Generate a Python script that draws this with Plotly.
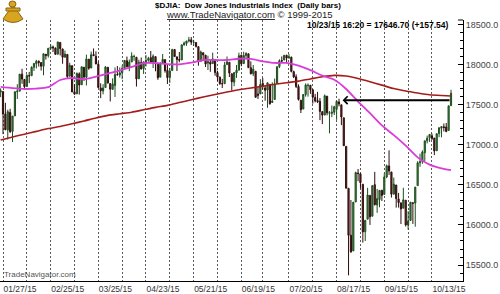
import plotly.graph_objects as go

# ---------------- data ----------------
dates = [
    "01/26/15", "01/27/15", "01/28/15", "01/29/15", "01/30/15",
    "02/02/15", "02/03/15", "02/04/15", "02/05/15", "02/06/15", "02/09/15", "02/10/15", "02/11/15", "02/12/15", "02/13/15",
    "02/17/15", "02/18/15", "02/19/15", "02/20/15", "02/23/15", "02/24/15", "02/25/15", "02/26/15", "02/27/15",
    "03/02/15", "03/03/15", "03/04/15", "03/05/15", "03/06/15", "03/09/15", "03/10/15", "03/11/15", "03/12/15", "03/13/15",
    "03/16/15", "03/17/15", "03/18/15", "03/19/15", "03/20/15", "03/23/15", "03/24/15", "03/25/15", "03/26/15", "03/27/15",
    "03/30/15", "03/31/15",
    "04/01/15", "04/02/15", "04/06/15", "04/07/15", "04/08/15", "04/09/15", "04/10/15", "04/13/15", "04/14/15", "04/15/15",
    "04/16/15", "04/17/15", "04/20/15", "04/21/15", "04/22/15", "04/23/15", "04/24/15", "04/27/15", "04/28/15", "04/29/15",
    "04/30/15",
    "05/01/15", "05/04/15", "05/05/15", "05/06/15", "05/07/15", "05/08/15", "05/11/15", "05/12/15", "05/13/15", "05/14/15",
    "05/15/15", "05/18/15", "05/19/15", "05/20/15", "05/21/15", "05/22/15", "05/26/15", "05/27/15", "05/28/15", "05/29/15",
    "06/01/15", "06/02/15", "06/03/15", "06/04/15", "06/05/15", "06/08/15", "06/09/15", "06/10/15", "06/11/15", "06/12/15",
    "06/15/15", "06/16/15", "06/17/15", "06/18/15", "06/19/15", "06/22/15", "06/23/15", "06/24/15", "06/25/15", "06/26/15",
    "06/29/15", "06/30/15",
    "07/01/15", "07/02/15", "07/06/15", "07/07/15", "07/08/15", "07/09/15", "07/10/15", "07/13/15", "07/14/15", "07/15/15",
    "07/16/15", "07/17/15", "07/20/15", "07/21/15", "07/22/15", "07/23/15", "07/24/15", "07/27/15", "07/28/15", "07/29/15",
    "07/30/15", "07/31/15",
    "08/03/15", "08/04/15", "08/05/15", "08/06/15", "08/07/15", "08/10/15", "08/11/15", "08/12/15", "08/13/15", "08/14/15",
    "08/17/15", "08/18/15", "08/19/15", "08/20/15", "08/21/15", "08/24/15", "08/25/15", "08/26/15", "08/27/15", "08/28/15",
    "08/31/15",
    "09/01/15", "09/02/15", "09/03/15", "09/04/15", "09/08/15", "09/09/15", "09/10/15", "09/11/15", "09/14/15", "09/15/15",
    "09/16/15", "09/17/15", "09/18/15", "09/21/15", "09/22/15", "09/23/15", "09/24/15", "09/25/15", "09/28/15", "09/29/15",
    "09/30/15",
    "10/01/15", "10/02/15", "10/05/15", "10/06/15", "10/07/15", "10/08/15", "10/09/15", "10/12/15", "10/13/15", "10/14/15",
    "10/15/15", "10/16/15", "10/19/15", "10/20/15", "10/21/15", "10/22/15", "10/23/15",
]

opens = [
    17662, 17668, 17387, 17188, 17407,
    17170, 17363, 17664, 17673, 17885, 17819, 17730, 17867, 17866, 17971, 18016, 18046, 18030, 17984, 18134, 18117, 18208, 18226, 18211,
    18134, 18282, 18200, 18096, 18132, 17859, 17991, 17663, 17639, 17889, 17753, 17972, 17847, 18073, 17962, 18131, 18108, 18009, 17713, 17674, 17718, 17971,
    17768, 17695, 17742, 17880, 17875, 17904, 17958, 18053, 17974, 18038, 18105, 18097, 17827, 18032, 17955, 18031, 18060, 18092, 18035, 18104, 18025,
    17848, 18026, 18067, 17932, 17844, 17930, 18194, 18102, 18069, 18063, 18251, 18269, 18300, 18315, 18283, 18280, 18229, 18046, 18153, 18123,
    18025, 18034, 18017, 18068, 17905, 17848, 17766, 17766, 18004, 18034, 17891, 17785, 17901, 17935, 18121, 18017, 18118, 18140, 17966, 17893, 17921, 17637,
    17638, 17770, 17713, 17687, 17758, 17531, 17568, 17770, 17980, 18054, 18062, 18121, 18088, 18098, 17916, 17852, 17731, 17560, 17449, 17630, 17741, 17746,
    17689, 17595, 17555, 17546, 17417, 17374, 17610, 17395, 17395, 17409, 17447, 17537, 17502, 17340, 16983, 16459, 15872, 15676, 16288, 16649, 16640,
    16510, 15916, 16072, 16370, 16110, 16504, 16251, 16318, 16433, 16382, 16600, 16738, 16663, 16385, 16500, 16326, 16277, 16210, 16310, 16001, 16057,
    16278, 16274, 16492, 16777, 16794, 16904, 17052, 17090, 17115, 17087, 16928, 17142, 17210, 17227, 17225, 17182, 17491,
]

highs = [
    17708, 17668, 17527, 17441, 17452,
    17362, 17666, 17759, 17888, 17952, 17825, 17885, 17913, 17983, 18021, 18064, 18057, 18033, 18141, 18135, 18210, 18257, 18242, 18218,
    18289, 18282, 18203, 18180, 18136, 18028, 17991, 17760, 17906, 17908, 17979, 17972, 18129, 18073, 18167, 18206, 18170, 18043, 17771, 17760, 17985, 17971,
    17768, 17832, 17969, 17986, 17970, 17993, 18057, 18105, 18068, 18158, 18129, 18097, 18067, 18093, 18044, 18123, 18102, 18175, 18133, 18104, 18025,
    18033, 18137, 18067, 18009, 17963, 18203, 18194, 18102, 18162, 18253, 18293, 18303, 18351, 18349, 18314, 18286, 18229, 18179, 18153, 18123,
    18116, 18073, 18154, 18068, 17928, 17855, 17826, 18039, 18106, 18034, 17891, 17912, 18000, 18154, 18131, 18165, 18159, 18140, 18045, 17999, 17921, 17716,
    17823, 17837, 17749, 17780, 17758, 17783, 17830, 17983, 18071, 18107, 18122, 18128, 18138, 18103, 17929, 17883, 17758, 17561, 17635, 17770, 17769, 17750,
    17700, 17639, 17664, 17586, 17417, 17631, 17610, 17424, 17493, 17490, 17548, 17578, 17502, 17340, 16983, 16459, 16312, 16285, 16666, 16700, 16640,
    16510, 16059, 16465, 16370, 16492, 16664, 16451, 16434, 16441, 16644, 16755, 16933, 16663, 16593, 16500, 16401, 16277, 16465, 16310, 16172, 16285,
    16278, 16478, 16797, 16891, 16933, 17057, 17117, 17138, 17143, 17087, 17142, 17216, 17230, 17268, 17275, 17489, 17689,
]

lows = [
    17598, 17136, 17184, 17067, 17152,
    17037, 17363, 17575, 17673, 17765, 17693, 17730, 17773, 17866, 17925, 17956, 17979, 17930, 17871, 18068, 18092, 18191, 18162, 18132,
    18134, 18119, 18015, 18096, 17826, 17859, 17662, 17630, 17639, 17630, 17753, 17800, 17744, 17940, 17962, 18116, 18011, 17718, 17585, 17633, 17718, 17767,
    17544, 17695, 17600, 17875, 17843, 17822, 17952, 17976, 17922, 18038, 18052, 17730, 17827, 17943, 17888, 17980, 18041, 18030, 17962, 17921, 17814,
    17848, 18026, 17904, 17762, 17776, 17930, 18100, 17924, 18034, 18063, 18241, 18239, 18282, 18250, 18238, 18218, 17991, 18046, 18068, 17974,
    17937, 17915, 18017, 17865, 17798, 17752, 17712, 17766, 18004, 17850, 17681, 17734, 17838, 17935, 17984, 18017, 18081, 17965, 17882, 17861, 17596, 17575,
    17638, 17694, 17553, 17465, 17504, 17531, 17568, 17770, 17961, 18027, 18062, 18037, 18079, 17907, 17836, 17711, 17555, 17399, 17449, 17604, 17604, 17639,
    17516, 17531, 17524, 17311, 17261, 17374, 17371, 17145, 17347, 17374, 17314, 17482, 17248, 16990, 16459, 15370, 15651, 15676, 16288, 16547, 16458,
    15780, 15800, 16072, 16001, 16110, 16244, 16152, 16222, 16300, 16382, 16585, 16626, 16343, 16385, 16217, 16218, 16012, 16210, 15981, 15942, 16057,
    16013, 15979, 16492, 16727, 16765, 16796, 17020, 17039, 17061, 16874, 16928, 17097, 17096, 17168, 17159, 17182, 17491,
]

closes = [
    17678, 17387, 17191, 17416, 17165,
    17361, 17666, 17673, 17885, 17824, 17729, 17868, 17862, 17972, 18019, 18047, 18029, 17985, 18140, 18117, 18209, 18225, 18214, 18133,
    18288, 18204, 18097, 18136, 17856, 17996, 17662, 17635, 17895, 17749, 17977, 17849, 18076, 17959, 18128, 18116, 18012, 17718, 17678, 17713, 17976, 17776,
    17698, 17763, 17880, 17875, 17902, 17958, 18057, 17977, 18036, 18113, 18106, 17826, 18034, 17950, 18038, 18058, 18080, 18037, 18110, 18035, 17841,
    18024, 18070, 17928, 17842, 17925, 18191, 18105, 18068, 18060, 18252, 18272, 18298, 18312, 18285, 18285, 18232, 18041, 18163, 18126, 18011,
    18040, 18011, 18076, 17905, 17849, 17766, 17765, 18001, 18039, 17899, 17791, 17904, 17935, 18115, 18015, 18119, 18144, 17966, 17890, 17947, 17596, 17620,
    17758, 17730, 17684, 17777, 17515, 17548, 17760, 17977, 18054, 18051, 18121, 18087, 18101, 17920, 17851, 17732, 17569, 17441, 17631, 17751, 17746, 17690,
    17599, 17551, 17540, 17419, 17373, 17615, 17403, 17402, 17409, 17477, 17546, 17512, 17349, 16991, 16460, 15871, 15666, 16285, 16655, 16643, 16528,
    15914, 16059, 16375, 16102, 16492, 16254, 16330, 16433, 16370, 16599, 16740, 16675, 16385, 16511, 16330, 16280, 16201, 16315, 16001, 16049, 16285,
    16272, 16472, 16777, 16790, 16913, 17051, 17084, 17131, 17082, 16925, 17141, 17216, 17230, 17218, 17169, 17489, 17647,
]

# moving averages, one value every 5 bars (plus the last bar)
ma_step = 5
ma_fast = [17725, 17710, 17700, 17705, 17722, 17812, 17837, 17822, 17855, 17893,
           17930, 17975, 18022, 18023, 18010, 18008, 18028, 18062, 18062, 18062,
           18078, 18075, 18045, 18025, 18025, 17992, 17935, 17866, 17815, 17700,
           17543, 17397, 17244, 17123, 16992, 16845, 16755, 16708, 16685]
ma_slow = [17062, 17100, 17135, 17170, 17205, 17232, 17265, 17300, 17338, 17370,
           17390, 17410, 17440, 17470, 17495, 17530, 17565, 17600, 17632, 17662,
           17690, 17712, 17735, 17758, 17778, 17798, 17825, 17852, 17870, 17862,
           17830, 17790, 17748, 17705, 17675, 17650, 17628, 17618, 17612]

y_ticks = [15500, 16000, 16500, 17000, 17500, 18000, 18500]
grid_dates = ["01/27/15", "02/10/15", "02/25/15", "03/11/15", "03/25/15", "04/09/15", "04/23/15",
              "05/07/15", "05/21/15", "06/05/15", "06/19/15", "07/02/15", "07/20/15", "08/03/15",
              "08/17/15", "08/31/15", "09/15/15", "09/29/15", "10/13/15"]
label_dates = ["01/27/15", "02/25/15", "03/25/15", "04/23/15", "05/21/15",
               "06/19/15", "07/20/15", "08/17/15", "09/15/15", "10/13/15"]

arrow_level = 17560
arrow_from = "10/23/15"
arrow_to_after = "08/19/15"
last_stamp = "10/23/15 16:20"
last_value = 17646.70
last_change = 157.54

# ---------------- figure ----------------
W, H = 500, 294
ML, MR, MT, MB = 0, 37, 20, 13
PW, PH = W - ML - MR, H - MT - MB


def px(x):
    return (x - ML) / PW


def py(y):
    return (H - MB - y) / PH


FONT = "Liberation Sans, Arial, sans-serif"

fig = go.Figure()
fig.add_trace(go.Candlestick(
    x=dates, open=opens, high=highs, low=lows, close=closes,
    increasing=dict(line=dict(color="#1f4d1f", width=1), fillcolor="#3e8c3e"),
    decreasing=dict(line=dict(color="#2e0c0c", width=1), fillcolor="#7d2424"),
    whiskerwidth=0, showlegend=False, hoverinfo="skip",
))

ma_x = dates[::ma_step] + [dates[-1]]
fig.add_trace(go.Scatter(x=ma_x, y=ma_slow, mode="lines",
                         line=dict(color="#a51c1c", width=1.6, shape="spline", smoothing=0.6),
                         showlegend=False, hoverinfo="skip"))
fig.add_trace(go.Scatter(x=ma_x, y=ma_fast, mode="lines",
                         line=dict(color="#d93cd9", width=1.8, shape="spline", smoothing=0.6),
                         showlegend=False, hoverinfo="skip"))

first_idx = dates.index(label_dates[0])
x_left = first_idx - 3 / 2.383
x_right = first_idx + 460 / 2.383

fig.update_layout(
    width=W, height=H,
    margin=dict(l=ML, r=MR, t=MT, b=MB, pad=0),
    paper_bgcolor="white", plot_bgcolor="white",
    showlegend=False,
    font=dict(family=FONT, size=9, color="#333"),
    xaxis=dict(
        type="category", range=[x_left, x_right],
        tickmode="array", tickvals=grid_dates,
        ticktext=[d if d in label_dates else "" for d in grid_dates],
        ticklabelposition="outside right",
        showgrid=True, gridcolor="#5a5a5a", gridwidth=1, griddash="2px,2px",
        showline=True, linecolor="black", linewidth=1,
        ticks="", tickfont=dict(size=8.5, color="#333", family=FONT),
        rangeslider=dict(visible=False), zeroline=False, fixedrange=True,
    ),
    yaxis=dict(
        side="right", range=[15300, 18562],
        tickmode="array", tickvals=y_ticks, tickformat=".1f",
        ticks="inside", ticklen=5, tickcolor="black", tickwidth=1,
        minor=dict(tick0=15500, dtick=100, ticks="inside", ticklen=3, tickcolor="black", showgrid=False),
        showline=True, linecolor="black", linewidth=1,
        showgrid=False, zeroline=False,
        tickfont=dict(size=9, color="#444", family=FONT),
        fixedrange=True,
    ),
)

# arrow pointing back to the August gap level
fig.add_annotation(
    x=dates.index(arrow_to_after) + 0.5, y=arrow_level,
    ax=dates.index(arrow_from), ay=arrow_level,
    xref="x", yref="y", axref="x", ayref="y",
    text="", showarrow=True, arrowhead=4, arrowsize=0.75, arrowwidth=2,
    arrowcolor="black", standoff=0, startstandoff=0,
)

# texts
fig.add_annotation(
    x=px(450), y=py(25.5), xref="paper", yref="paper", xanchor="right", yanchor="middle",
    text=f"<b>{last_stamp} = {last_value:.2f} (+{last_change:.2f})</b>",
    showarrow=False, font=dict(size=8.5, color="black", family=FONT),
)
fig.add_annotation(
    x=px(248), y=py(5.5), xref="paper", yref="paper", xanchor="center", yanchor="middle",
    text="<b>$DJIA:\u00a0 Dow Jones Industrials Index\u00a0 (Daily bars)</b>",
    showarrow=False, font=dict(size=8, color="black", family=FONT),
)
fig.add_annotation(
    x=px(250), y=py(14.5), xref="paper", yref="paper", xanchor="center", yanchor="middle",
    text="<u>www.TradeNavigator.com</u> \u00a9 1999-2015",
    showarrow=False, font=dict(size=9.5, color="#222", family=FONT),
)
fig.add_annotation(
    x=px(2), y=py(274), xref="paper", yref="paper", xanchor="left", yanchor="middle",
    text="TradeNavigator.com",
    showarrow=False, font=dict(size=8, color="#555", family=FONT),
)

# top stub of the right frame
fig.add_shape(type="line", xref="paper", yref="paper",
              x0=px(458), x1=1, y0=1, y1=1, line=dict(color="black", width=1))

# simple gold sextant-like logo (top-left)
gold = "#d8a521"
gold_dark = "#8c6512"
fig.add_shape(type="path", xref="paper", yref="paper",
              path=(f"M {px(13)},{py(5)} L {px(3)},{py(19)} Q {px(13)},{py(26)} {px(23)},{py(19)} Z"),
              fillcolor=gold, line=dict(color=gold_dark, width=1))
fig.add_shape(type="rect", xref="paper", yref="paper",
              x0=px(6), x1=px(20), y0=py(11), y1=py(8),
              fillcolor=gold, line=dict(color=gold_dark, width=1))
fig.add_shape(type="circle", xref="paper", yref="paper",
              x0=px(9), x1=px(16), y0=py(7), y1=py(1),
              fillcolor=gold, line=dict(color=gold_dark, width=1))

fig.write_html("out.html")
